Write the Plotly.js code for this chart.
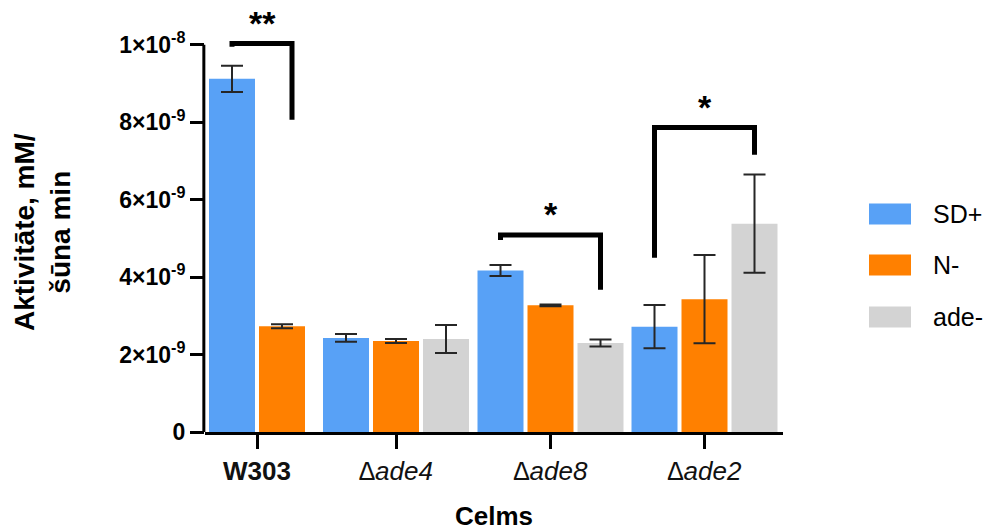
<!DOCTYPE html>
<html>
<head>
<meta charset="utf-8">
<script src="https://cdn.plot.ly/plotly-3.0.1.min.js"></script>
<style>
  html, body { margin: 0; padding: 0; background: #ffffff; }
  #chart { width: 1000px; height: 531px; }
</style>
</head>
<body>
<div id="chart"></div>
<script>
// Strains on the x axis
const strains = ['W303', 'ade4', 'ade8', 'ade2'];
const strainLabels = ['<b>W303</b>', '<i>∆ade4</i>', '<i>∆ade8</i>', '<i>∆ade2</i>'];

// Growth media (series)
const seriesNames = ['SD+', 'N-', 'ade-'];

// Enzyme activity, mM / cell / min (mean and error)
const sdPlus      = [9.12e-9, 2.43e-9, 4.17e-9, 2.72e-9];
const sdPlusErr   = [0.34e-9, 0.10e-9, 0.14e-9, 0.56e-9];
const nMinus      = [2.73e-9, 2.35e-9, 3.27e-9, 3.43e-9];
const nMinusErr   = [0.05e-9, 0.05e-9, 0.02e-9, 1.14e-9];
const adeMinus    = [null, 2.40e-9, 2.30e-9, 5.38e-9];
const adeMinusErr = [null, 0.36e-9, 0.09e-9, 1.27e-9];

// Y axis ticks
const yTickVals = [0, 2e-9, 4e-9, 6e-9, 8e-9, 1e-8];
const yTickText = ['0', '2×10<sup>-9</sup>', '4×10<sup>-9</sup>', '6×10<sup>-9</sup>',
                   '8×10<sup>-9</sup>', '1×10<sup>-8</sup>'];

// Significance brackets: group, first/last series joined, heights, label
const brackets = [
  { group: 0, from: 0, to: 1, top: 10.03e-9, leftEnd: 9.95e-9, rightEnd: 8.06e-9, label: '**', nudge: 0.2 },
  { group: 2, from: 0, to: 2, top: 5.09e-9,  leftEnd: 4.96e-9, rightEnd: 3.67e-9, label: '*',  nudge: 0 },
  { group: 3, from: 0, to: 2, top: 7.86e-9,  leftEnd: 4.50e-9, rightEnd: 7.16e-9, label: '*',  nudge: 0 }
];

// ---- styling / layout ----
const colors = ['#58A1F6', '#FF8000', '#D3D3D3'];
const FONT = 'Arial, "Liberation Sans", Helvetica, sans-serif';
const W = 1000, H = 531;
const M = { l: 205, r: 217, t: 6, b: 99 };
const groupCenters = [1.04, 3.82, 6.91, 9.99];
const slot = 1.0;
const barWidth = 0.92;

const values = [sdPlus, nMinus, adeMinus];
const errors = [sdPlusErr, nMinusErr, adeMinusErr];

function barX(g, s) {
  const present = values.map(v => v[g] !== null && v[g] !== undefined);
  const n = present.filter(Boolean).length;
  const idx = present.slice(0, s).filter(Boolean).length;
  return groupCenters[g] + (idx - (n - 1) / 2) * slot;
}

const traces = seriesNames.map((name, s) => {
  const xs = [], ys = [], es = [];
  strains.forEach((_, g) => {
    if (values[s][g] === null) return;
    xs.push(barX(g, s));
    ys.push(values[s][g]);
    es.push(errors[s][g]);
  });
  return {
    type: 'bar',
    name: name,
    x: xs,
    y: ys,
    width: barWidth,
    marker: { color: colors[s], line: { width: 0 } },
    error_y: { type: 'data', array: es, visible: true, color: '#262626', thickness: 2, width: 11 },
    showlegend: false
  };
});

// pixel -> paper helpers for the legend and the y title
const plotW = W - M.l - M.r, plotH = H - M.t - M.b;
const px2x = px => (px - M.l) / plotW;
const py2y = py => (H - M.b - py) / plotH;

const shapes = [];
const annotations = [];

// y axis line, ending at the top tick
shapes.push({
  type: 'line', xref: 'paper', yref: 'y', x0: -0.002, x1: -0.002, y0: 0, y1: 1e-8,
  line: { color: '#000', width: 3 }
});

// significance brackets
brackets.forEach(b => {
  const x1 = barX(b.group, b.from);
  const x2 = barX(b.group, b.to) + b.nudge;
  shapes.push({
    type: 'path', xref: 'x', yref: 'y',
    path: `M ${x1},${b.leftEnd} L ${x1},${b.top} L ${x2},${b.top} L ${x2},${b.rightEnd}`,
    line: { color: '#000', width: 5 }
  });
  annotations.push({
    xref: 'x', yref: 'y', x: (x1 + x2) / 2, y: b.top, yanchor: 'bottom', xanchor: 'center',
    text: b.label, showarrow: false, yshift: 0,
    font: { family: FONT, size: 34, color: '#000', weight: 'bold' }
  });
});

// legend
const legendRows = [214, 265, 317];
seriesNames.forEach((name, s) => {
  const cy = legendRows[s];
  shapes.push({
    type: 'rect', xref: 'paper', yref: 'paper',
    x0: px2x(869), x1: px2x(911), y0: py2y(cy + 10.5), y1: py2y(cy - 10.5),
    fillcolor: colors[s], line: { width: 0 }
  });
  annotations.push({
    xref: 'paper', yref: 'paper', x: px2x(931), y: py2y(cy), xanchor: 'left', yanchor: 'middle',
    text: name, showarrow: false, font: { family: FONT, size: 25, color: '#000' }
  });
});

// y axis title
annotations.push({
  xref: 'paper', yref: 'paper', x: px2x(42), y: py2y(232), xanchor: 'center', yanchor: 'middle',
  text: '<b>Aktivitāte, mM/<br>šūna min</b>', textangle: -90, showarrow: false,
  font: { family: FONT, size: 28, color: '#000' }
});

const layout = {
  width: W, height: H,
  margin: M,
  paper_bgcolor: '#ffffff', plot_bgcolor: '#ffffff',
  barmode: 'overlay',
  showlegend: false,
  font: { family: FONT, color: '#000' },
  xaxis: {
    type: 'linear',
    range: [0, 11.56],
    tickvals: groupCenters,
    ticktext: strainLabels,
    ticks: 'outside', ticklen: 14, tickwidth: 3, tickcolor: '#000',
    showline: true, linewidth: 3, linecolor: '#000',
    showgrid: false, zeroline: false,
    tickfont: { family: FONT, size: 26, color: '#111' },
    title: { text: '<b>Celms</b>', font: { family: FONT, size: 26, color: '#000' }, standoff: 22 }
  },
  yaxis: {
    range: [0, 1.1e-8],
    tickvals: yTickVals,
    ticktext: yTickText,
    ticks: 'outside', ticklen: 14, tickwidth: 3, tickcolor: '#000',
    showline: false, showgrid: false, zeroline: false,
    tickfont: { family: FONT, size: 23, color: '#000', weight: 'bold' }
  },
  shapes: shapes,
  annotations: annotations
};

Plotly.newPlot('chart', traces, layout, { staticPlot: true, displayModeBar: false });
</script>
</body>
</html>
